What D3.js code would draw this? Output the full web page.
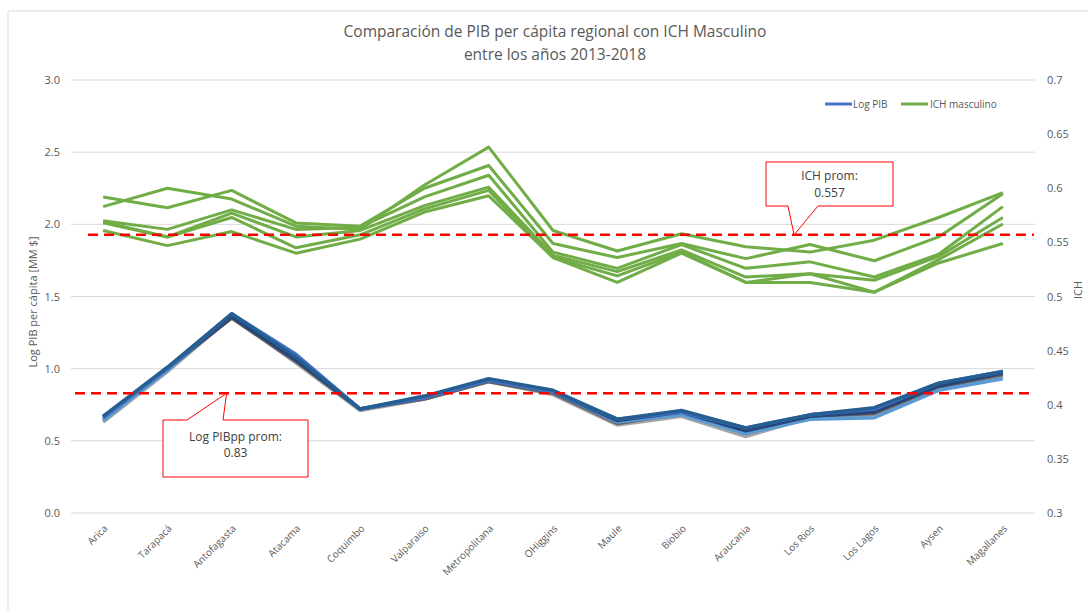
<!DOCTYPE html>
<html>
<head>
<meta charset="utf-8">
<script src="https://cdn.jsdelivr.net/npm/d3@7"></script>
<style>
  body { margin: 0; background: #fff; }
  text { font-family: "Open Sans", "Noto Sans", sans-serif; }
</style>
</head>
<body>
<script>
// DONNEES

var regiones = ["Arica","Tarapacá","Antofagasta","Atacama","Coquimbo","Valparaiso","Metropolitana",
  "OHiggins","Maule","Biobio","Araucania","Los Rios","Los Lagos","Aysen","Magallanes"];

// Log PIB per capita, une serie par annee (2013-2018)
var pib2013 = [0.63,0.98,1.36,1.04,0.71,0.79,0.91,0.82,0.61,0.67,0.53,0.66,0.68,0.86,0.95];
var pib2014 = [0.65,1.00,1.35,1.05,0.72,0.79,0.91,0.83,0.62,0.69,0.55,0.67,0.69,0.87,0.96];
var pib2015 = [0.64,0.99,1.37,1.07,0.72,0.80,0.92,0.84,0.63,0.68,0.55,0.65,0.66,0.85,0.93];
var pib2016 = [0.67,1.00,1.36,1.06,0.72,0.80,0.92,0.84,0.64,0.70,0.57,0.67,0.70,0.88,0.97];
var pib2017 = [0.66,1.00,1.38,1.10,0.72,0.80,0.92,0.84,0.65,0.70,0.59,0.68,0.72,0.90,0.98];
var pib2018 = [0.67,1.01,1.38,1.08,0.72,0.81,0.93,0.85,0.65,0.71,0.59,0.68,0.73,0.90,0.98];

// ICH masculino
var ich1 = [0.583,0.600,0.590,0.565,0.562,0.603,0.638,0.561,0.542,0.558,0.546,0.541,0.552,0.573,0.596];
var ich2 = [0.592,0.582,0.598,0.568,0.565,0.600,0.621,0.549,0.536,0.549,0.535,0.548,0.533,0.555,0.595];
var ich3 = [0.570,0.562,0.580,0.562,0.564,0.592,0.612,0.541,0.526,0.548,0.526,0.532,0.518,0.539,0.583];
var ich4 = [0.569,0.555,0.577,0.555,0.561,0.584,0.601,0.538,0.523,0.543,0.518,0.521,0.515,0.537,0.573];
var ich5 = [0.568,0.555,0.573,0.545,0.557,0.581,0.598,0.536,0.513,0.540,0.513,0.513,0.504,0.534,0.567];
var ich6 = [0.561,0.547,0.560,0.540,0.553,0.578,0.593,0.536,0.519,0.541,0.513,0.521,0.504,0.531,0.549];

var pibProm = 0.83;
var ichProm = 0.557;

var ticksGauche = [0,0.5,1,1.5,2,2.5,3];
var ticksDroite = [0.3,0.35,0.4,0.45,0.5,0.55,0.6,0.65,0.7];

// DIMENSIONS

var W = 1088, H = 611;
var margin = {top: 80, bottom: 98, left: 71, right: 53};
var width = W - margin.left - margin.right,
    height = H - margin.top - margin.bottom;

var svg = d3.select("body").append("svg")
    .attr("width", W)
    .attr("height", H);

// cadre du graphique (haut et gauche visibles)
svg.append("path")
    .attr("d", "M8," + H + "V11H" + W)
    .attr("fill", "none")
    .attr("stroke", "#d9d9d9")
    .attr("stroke-width", 1);

var g = svg.append("g")
    .attr("transform", "translate(" + margin.left + "," + margin.top + ")");

// ECHELLES

var absc = d3.scaleBand().domain(regiones).range([0, width]);
var ordo = d3.scaleLinear().domain([0, 3]).range([height, 0]);
var ordo2 = d3.scaleLinear().domain([0.3, 0.7]).range([height, 0]);
var cx = function(i) { return absc(regiones[i]) + absc.bandwidth() / 2; };

// GRILLE

g.append("g").selectAll("line")
    .data(ticksGauche).enter().append("line")
    .attr("x1", 0).attr("x2", width)
    .attr("y1", function(d) { return ordo(d); })
    .attr("y2", function(d) { return ordo(d); })
    .attr("stroke", "#d9d9d9")
    .attr("stroke-width", 1);

// AXES

var axeG = g.append("g")
    .call(d3.axisLeft(ordo).tickValues(ticksGauche).tickFormat(d3.format(".1f")).tickSize(0).tickPadding(11));
axeG.select(".domain").remove();
axeG.selectAll("text").attr("fill", "#595959").style("font-size", "11px");

var axeD = g.append("g")
    .attr("transform", "translate(" + width + ",0)")
    .call(d3.axisRight(ordo2).tickValues(ticksDroite).tickFormat(function(d) { return String(+d.toFixed(2)); }).tickSize(0).tickPadding(12));
axeD.select(".domain").remove();
axeD.selectAll("text").attr("fill", "#595959").style("font-size", "11px").attr("text-anchor", "start");

var axeX = g.append("g")
    .attr("transform", "translate(0," + height + ")")
    .call(d3.axisBottom(absc).tickSize(0));
axeX.select(".domain").remove();
axeX.selectAll("text")
    .attr("fill", "#595959")
    .style("font-size", "10px")
    .attr("text-anchor", "end")
    .attr("dy", 0)
    .attr("transform", "translate(3,14) rotate(-45)");

// COURBES

var lignePib = d3.line()
    .x(function(d, i) { return cx(i); })
    .y(function(d) { return ordo(d); });

var ligneIch = d3.line()
    .x(function(d, i) { return cx(i); })
    .y(function(d) { return ordo2(d); });

var seriesPib = [
  {v: pib2013, c: "#a5a5a5"},
  {v: pib2014, c: "#636363"},
  {v: pib2015, c: "#5b9bd5"},
  {v: pib2016, c: "#264478"},
  {v: pib2017, c: "#4472c4"},
  {v: pib2018, c: "#255e91"}
];

g.selectAll(".pib").data(seriesPib).enter().append("path")
    .attr("class", "pib")
    .attr("fill", "none")
    .attr("stroke", function(d) { return d.c; })
    .attr("stroke-width", 3.5)
    .attr("stroke-linejoin", "round")
    .attr("d", function(d) { return lignePib(d.v); });

var seriesIch = [ich1, ich2, ich3, ich4, ich5, ich6];

g.selectAll(".ich").data(seriesIch).enter().append("path")
    .attr("class", "ich")
    .attr("fill", "none")
    .attr("stroke", "#70ad47")
    .attr("stroke-width", 3)
    .attr("stroke-linejoin", "round")
    .attr("d", function(d) { return ligneIch(d); });

// MOYENNES

g.append("line")
    .attr("x1", 17).attr("x2", width - 1)
    .attr("y1", ordo2(ichProm)).attr("y2", ordo2(ichProm))
    .attr("stroke", "#ff0000").attr("stroke-width", 2.5)
    .attr("stroke-dasharray", "10,6");

g.append("line")
    .attr("x1", 4).attr("x2", width - 6)
    .attr("y1", ordo(pibProm)).attr("y2", ordo(pibProm))
    .attr("stroke", "#ff0000").attr("stroke-width", 2.5)
    .attr("stroke-dasharray", "10,6");

// ETIQUETTES (bulles)

var tipI = [cx(11) - 16, ordo2(ichProm)];
var bI = {x: 695, y: 82, w: 127, h: 44};
g.append("path")
    .attr("d", "M" + bI.x + "," + bI.y + "h" + bI.w + "v" + bI.h + "H" + (bI.x + 52) +
      "L" + tipI[0] + "," + tipI[1] + "L" + (bI.x + 22) + "," + (bI.y + bI.h) + "H" + bI.x + "Z")
    .attr("fill", "#fff").attr("stroke", "#ff0000").attr("stroke-width", 1);
g.append("text").attr("x", bI.x + bI.w / 2).attr("y", bI.y + 18)
    .attr("text-anchor", "middle").attr("fill", "#404040").style("font-size", "12px").text("ICH prom:");
g.append("text").attr("x", bI.x + bI.w / 2).attr("y", bI.y + 35)
    .attr("text-anchor", "middle").attr("fill", "#404040").style("font-size", "12px").text(ichProm);

var tipP = [cx(2) - 5, ordo(pibProm)];
var bP = {x: 92, y: 340, w: 145, h: 57};
g.append("path")
    .attr("d", "M" + bP.x + "," + bP.y + "H" + (bP.x + 24) +
      "L" + tipP[0] + "," + tipP[1] + "L" + (bP.x + 60) + "," + bP.y +
      "H" + (bP.x + bP.w) + "v" + bP.h + "H" + bP.x + "Z")
    .attr("fill", "#fff").attr("stroke", "#ff0000").attr("stroke-width", 1);
g.append("text").attr("x", bP.x + bP.w / 2).attr("y", bP.y + 21)
    .attr("text-anchor", "middle").attr("fill", "#404040").style("font-size", "12px").text("Log PIBpp prom:");
g.append("text").attr("x", bP.x + bP.w / 2).attr("y", bP.y + 37)
    .attr("text-anchor", "middle").attr("fill", "#404040").style("font-size", "12px").text(pibProm);

// TITRES

svg.append("text").attr("x", 555).attr("y", 37)
    .attr("text-anchor", "middle").attr("fill", "#595959").style("font-size", "15.5px")
    .text("Comparación de PIB per cápita regional con ICH Masculino");
svg.append("text").attr("x", 555).attr("y", 60)
    .attr("text-anchor", "middle").attr("fill", "#595959").style("font-size", "15.5px")
    .text("entre los años 2013-2018");

svg.append("text")
    .attr("transform", "translate(37,302) rotate(-90)")
    .attr("text-anchor", "middle").attr("fill", "#595959").style("font-size", "11px")
    .text("Log PIB per cápita [MM $]");

svg.append("text")
    .attr("transform", "translate(1082,290) rotate(-90)")
    .attr("text-anchor", "middle").attr("fill", "#595959").style("font-size", "11px")
    .text("ICH");

// LEGENDE

var leg = svg.append("g").attr("transform", "translate(825,104)");
leg.append("line").attr("x1", 0).attr("x2", 27).attr("y1", 0).attr("y2", 0)
    .attr("stroke", "#4472c4").attr("stroke-width", 3);
leg.append("text").attr("x", 28).attr("y", 4).attr("fill", "#595959").style("font-size", "10px").text("Log PIB");
leg.append("line").attr("x1", 76).attr("x2", 103).attr("y1", 0).attr("y2", 0)
    .attr("stroke", "#70ad47").attr("stroke-width", 3);
leg.append("text").attr("x", 105).attr("y", 4).attr("fill", "#595959").style("font-size", "10px").text("ICH masculino");
</script>
</body>
</html>
